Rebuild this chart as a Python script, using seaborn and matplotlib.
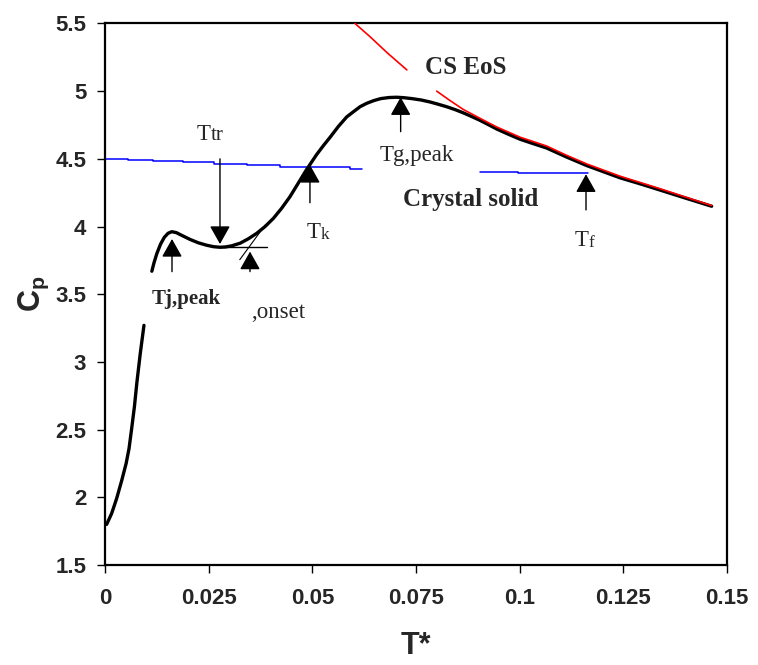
import matplotlib
matplotlib.use("Agg")
import matplotlib.pyplot as plt
import pandas as pd
import seaborn as sns

# ---------------- data ----------------
black_T_a = [0.0004, 0.0010, 0.0016, 0.0028, 0.0040, 0.0051, 0.0058, 0.0064, 0.0071, 0.0077, 0.0085, 0.0094]
black_cp_a = [1.80, 1.84, 1.88, 1.99, 2.12, 2.25, 2.36, 2.50, 2.67, 2.85, 3.06, 3.27]
black_T_b = [0.0113, 0.0118, 0.0125, 0.0134, 0.0143, 0.0152, 0.0161, 0.0172, 0.0185,
             0.0205, 0.0225, 0.0245, 0.0262, 0.0277, 0.0290, 0.0305, 0.0326, 0.0346,
             0.0366, 0.0386, 0.0406, 0.0426, 0.0446, 0.0466, 0.0486, 0.0510, 0.0526,
             0.0543, 0.0563, 0.0583, 0.0600, 0.0615, 0.0631, 0.0648, 0.0665, 0.0685,
             0.0703, 0.0720, 0.0740, 0.0762, 0.0784, 0.0804, 0.0824, 0.0844, 0.0864,
             0.0884, 0.0904, 0.0925, 0.0945, 0.0972, 0.1001, 0.1032, 0.1065, 0.1112,
             0.1162, 0.1202, 0.1242, 0.1290, 0.1338, 0.1400, 0.1463]
black_cp_b = [3.67, 3.73, 3.80, 3.87, 3.92, 3.95, 3.962, 3.955, 3.935,
              3.905, 3.88, 3.862, 3.851, 3.847, 3.849, 3.857, 3.877, 3.91,
              3.95, 4.00, 4.06, 4.135, 4.22, 4.32, 4.42, 4.53, 4.595,
              4.66, 4.74, 4.81, 4.85, 4.885, 4.91, 4.93, 4.945, 4.953,
              4.955, 4.952, 4.945, 4.935, 4.92, 4.903, 4.885, 4.864, 4.84,
              4.813, 4.785, 4.752, 4.72, 4.683, 4.645, 4.613, 4.58, 4.515,
              4.45, 4.405, 4.36, 4.316, 4.27, 4.21, 4.15]

red_T_a = [0.0603, 0.0640, 0.0680, 0.0728]
red_cp_a = [5.50, 5.40, 5.285, 5.157]
red_T_b = [0.0800, 0.0830, 0.0864, 0.0904, 0.0945, 0.1001, 0.1065, 0.1112, 0.1162, 0.1202,
           0.1242, 0.1290, 0.1338, 0.1400, 0.1463]
red_cp_b = [5.00, 4.935, 4.865, 4.80, 4.735, 4.66, 4.595, 4.528, 4.462, 4.417,
            4.372, 4.326, 4.28, 4.218, 4.155]

blue_T_a = [0.0, 0.0055, 0.0115, 0.0188, 0.0262, 0.0342, 0.0422, 0.0590, 0.0619]
blue_cp_a = [4.497, 4.49, 4.482, 4.475, 4.465, 4.455, 4.443, 4.423, 4.423]
blue_T_b = [0.0904, 0.0996, 0.1166]
blue_cp_b = [4.405, 4.394, 4.394]

x_ticks = [0, 0.025, 0.05, 0.075, 0.1, 0.125, 0.15]
x_tick_labels = ["0", "0.025", "0.05", "0.075", "0.1", "0.125", "0.15"]
y_ticks = [1.5, 2, 2.5, 3, 3.5, 4, 4.5, 5, 5.5]
y_tick_labels = ["1.5", "2", "2.5", "3", "3.5", "4", "4.5", "5", "5.5"]


def seg_frame(parts):
    rows = []
    for i, (t, c) in enumerate(parts):
        for a, b in zip(t, c):
            rows.append({"T": a, "Cp": b, "seg": i})
    return pd.DataFrame(rows)


black_df = seg_frame([(black_T_a, black_cp_a), (black_T_b, black_cp_b)])
red_df = seg_frame([(red_T_a, red_cp_a), (red_T_b, red_cp_b)])
blue_df = seg_frame([(blue_T_a, blue_cp_a), (blue_T_b, blue_cp_b)])

# ---------------- style ----------------
sns.set_style("white")
plt.rcParams["font.family"] = ["Liberation Sans", "DejaVu Sans"]
plt.rcParams["mathtext.fontset"] = "custom"
plt.rcParams["mathtext.bf"] = "Liberation Sans:bold"
plt.rcParams["mathtext.rm"] = "Liberation Sans"
plt.rcParams["mathtext.it"] = "Liberation Sans:italic"

fig = plt.figure(figsize=(7.58, 6.65), dpi=100)
ax = fig.add_axes([0.1385, 0.1504, 0.8206, 0.8143])

sns.lineplot(data=blue_df, x="T", y="Cp", units="seg", estimator=None, sort=False,
             color="#0000FF", lw=1.1, drawstyle="steps-post", ax=ax, zorder=2)
sns.lineplot(data=black_df, x="T", y="Cp", units="seg", estimator=None, sort=False,
             color="black", lw=2.4, ax=ax, zorder=4,
             solid_joinstyle="round", solid_capstyle="round")
sns.lineplot(data=red_df, x="T", y="Cp", units="seg", estimator=None, sort=False,
             color="#FF0000", lw=1.2, ax=ax, zorder=5, solid_joinstyle="round")

# tangent construction at onset
sns.lineplot(x=[0.0277, 0.0390], y=[3.847, 3.847], color="black", lw=1.0, ax=ax, zorder=4)
sns.lineplot(x=[0.0325, 0.0386], y=[3.755, 4.01], color="black", lw=0.8, ax=ax, zorder=4)

ax.set_xlim(0, 0.15)
ax.set_ylim(1.5, 5.5)
ax.set_xticks(x_ticks)
ax.set_xticklabels(x_tick_labels)
ax.set_yticks(y_ticks)
ax.set_yticklabels(y_tick_labels)
for lab in ax.get_xticklabels() + ax.get_yticklabels():
    lab.set_fontweight("bold")
    lab.set_fontsize(16)
ax.tick_params(axis="both", direction="out", length=5.5, width=1.0, color="black",
               bottom=True, left=True, top=False, right=False)
ax.tick_params(axis="x", pad=11)
ax.tick_params(axis="y", pad=8)
for sp in ax.spines.values():
    sp.set_visible(True)
    sp.set_color("black")
    sp.set_linewidth(1.6)

ax.set_xlabel("T*", fontsize=22, fontweight="bold")
ax.set_ylabel(r"$\mathbf{C_p}$", fontsize=22, fontweight="bold")
ax.xaxis.set_label_coords(0.5, -0.122)
ax.yaxis.set_label_coords(-0.087, 0.5)

# ---------------- arrows ----------------
arrow_style = "-|>,head_length=0.8,head_width=0.45"


def arrow(tip, tail):
    ax.annotate("", xy=tip, xytext=tail, zorder=6,
                arrowprops=dict(arrowstyle=arrow_style, color="black", lw=1.0,
                                shrinkA=0, shrinkB=0, mutation_scale=14))


arrow((0.01616, 3.908), (0.01616, 3.667))   # Tj,peak
arrow((0.03497, 3.815), (0.03497, 3.667))   # Tg,onset
arrow((0.04943, 4.455), (0.04943, 4.176))   # Tk
arrow((0.0713, 4.955), (0.0713, 4.701))     # Tg,peak
arrow((0.1160, 4.386), (0.1160, 4.123))     # Tf
arrow((0.02773, 3.871), (0.02773, 4.50))    # Ttr (down)

# ---------------- labels ----------------
serif = "Liberation Serif"


def two_size(x, y, big, small, bs=16.5, ss=12.5):
    t1 = ax.text(x, y, big, fontsize=bs, family=serif, ha="left", va="baseline", zorder=7)
    ax.annotate(small, xy=(1, 0), xycoords=t1, fontsize=ss, family=serif,
                ha="left", va="bottom", zorder=7)


two_size(0.02218, 4.64, "T", "tr", ss=15)
two_size(0.04871, 3.916, "T", "k")
two_size(0.11333, 3.857, "T", "f")

ax.text(0.06631, 4.485, "Tg,peak", fontsize=16.5, family=serif, ha="left", va="baseline", zorder=7)
ax.text(0.01133, 3.43, "Tj,peak", fontsize=15, family=serif, fontweight="bold",
        ha="left", va="baseline", zorder=7)
ax.text(0.03520, 3.325, ",onset", fontsize=16.5, family=serif, ha="left", va="baseline", zorder=7)
ax.text(0.07716, 5.125, "CS EoS", fontsize=18, family=serif, fontweight="bold",
        ha="left", va="baseline", zorder=7)
ax.text(0.07186, 4.152, "Crystal solid", fontsize=18, family=serif, fontweight="bold",
        ha="left", va="baseline", zorder=7)

fig.savefig("out.png", dpi=100)
